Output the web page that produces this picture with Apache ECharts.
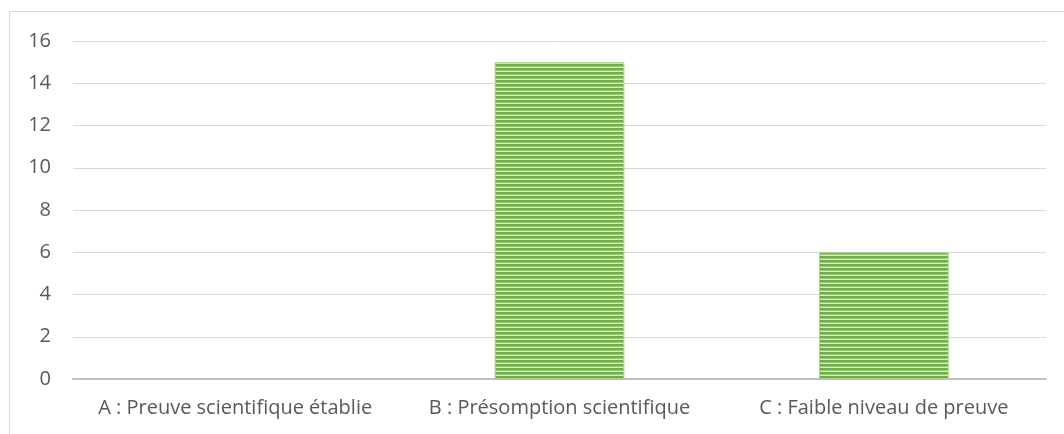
<!DOCTYPE html>
<html><head><meta charset="utf-8">
<script src="https://cdn.jsdelivr.net/npm/echarts@6/dist/echarts.min.js"></script>
<style>
html,body{margin:0;padding:0;background:#fff;}
#frame{position:absolute;left:9px;top:11px;width:1100px;height:500px;border-left:1px solid #d9d9d9;border-top:1px solid #d9d9d9;}
#c{position:absolute;left:0;top:0;width:1064px;height:434px;}
</style></head>
<body>
<div id="frame"></div>
<div id="c"></div>
<script>
const categories = ['A : Preuve scientifique établie', 'B : Présomption scientifique', 'C : Faible niveau de preuve'];
const values = [0, 15, 6];
const yTicks = {min: 0, max: 16, interval: 2};

const pat = document.createElement('canvas');
pat.width = 4; pat.height = 4;
const g = pat.getContext('2d');
g.fillStyle = '#70AD47'; g.fillRect(0,0,4,2);
g.fillStyle = '#9CC97F'; g.fillRect(0,2,4,1);
g.fillStyle = '#D6EACA'; g.fillRect(0,3,4,1);

const chart = echarts.init(document.getElementById('c'), null, {renderer:'canvas'});
const font = '"Open Sans", sans-serif';
chart.setOption({
  animation: false,
  grid: {left: 73, right: 18, top: 41, bottom: 55, containLabel: false},
  xAxis: {
    type: 'category', data: categories,
    axisLine: {lineStyle: {color: '#BFBFBF', width: 2}},
    axisTick: {show: false},
    axisLabel: {color: '#595959', fontSize: 20, fontFamily: font, margin: 19, interval: 0, hideOverlap: false}
  },
  yAxis: {
    type: 'value', min: yTicks.min, max: yTicks.max, interval: yTicks.interval,
    axisLine: {show: false}, axisTick: {show: false},
    splitLine: {lineStyle: {color: '#D9D9D9', width: 1}},
    axisLabel: {color: '#595959', fontSize: 20, fontFamily: font, margin: 22}
  },
  series: [{
    type: 'bar', barWidth: '40%',
    data: values.map(v => v === 0 ? {value: v, itemStyle: {borderWidth: 0}} : v),
    itemStyle: {color: {image: pat, repeat: 'repeat'}, borderColor: '#A9D18E', borderWidth: 1}
  }]
});
</script>
</body></html>
